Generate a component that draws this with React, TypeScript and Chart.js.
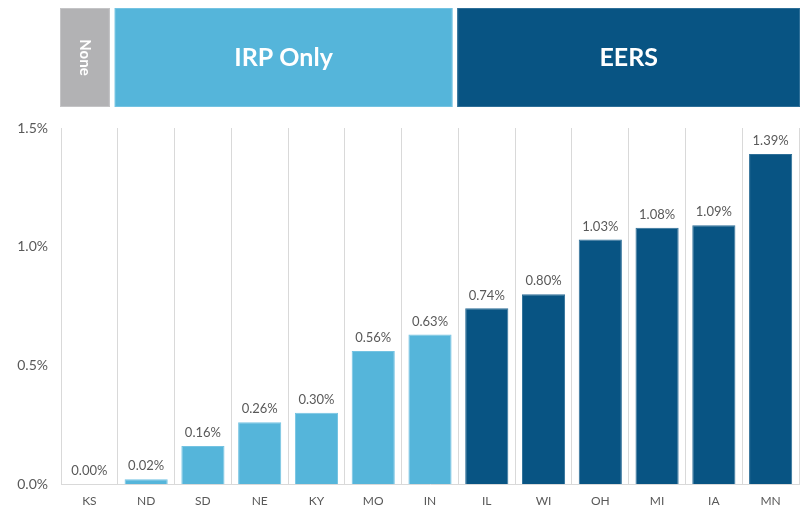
import React, { useEffect, useRef } from "react";
import { Chart, registerables } from "chart.js";

Chart.register(...registerables);

const categories = ["KS", "ND", "SD", "NE", "KY", "MO", "IN", "IL", "WI", "OH", "MI", "IA", "MN"];
const values = [0.0, 0.02, 0.16, 0.26, 0.3, 0.56, 0.63, 0.74, 0.8, 1.03, 1.08, 1.09, 1.39];
const groupOfCategory = [0, 1, 1, 1, 1, 1, 1, 2, 2, 2, 2, 2, 2];
const groupNames = ["None", "IRP Only", "EERS"];
const groupStart = [0, 1, 7];
const groupEnd = [1, 7, 13];
const groupColors = ["#B2B2B4", "#55B5DA", "#085483"];
const groupBorders = ["#C4C4C6", "#74C3E2", "#2E6F98"];
const yTicks = [0, 0.5, 1.0, 1.5];

const FONT = "Lato, 'DejaVu Sans', sans-serif";
const TEXT = "#595959";

const headerPlugin = {
  id: "groupHeaders",
  afterDraw(chart: any) {
    const ctx = chart.ctx;
    const xs = chart.scales.x;
    const n = categories.length;
    const w = (xs.right - xs.left) / n;
    const b = (i: number) => xs.left + i * w;
    const adj = [
      [-1, -8],
      [-3, -6],
      [-1, 1],
    ];
    const top = 8;
    const bottom = 107;
    ctx.save();
    for (let g = 0; g < groupNames.length; g++) {
      const x0 = b(groupStart[g]) + adj[g][0];
      const x1 = b(groupEnd[g]) + adj[g][1];
      ctx.fillStyle = groupColors[g];
      ctx.fillRect(x0, top, x1 - x0, bottom - top);
      ctx.strokeStyle = groupBorders[g];
      ctx.lineWidth = 1;
      ctx.strokeRect(x0 + 0.5, top + 0.5, x1 - x0 - 1, bottom - top - 1);
      ctx.fillStyle = "#FFFFFF";
      ctx.textAlign = "center";
      ctx.textBaseline = "middle";
      const cx = (x0 + x1) / 2;
      const cy = (top + bottom) / 2;
      if (g === 0) {
        ctx.save();
        ctx.translate(cx, cy);
        ctx.rotate(Math.PI / 2);
        ctx.font = `bold 15px ${FONT}`;
        ctx.fillText(groupNames[g], 0, 0);
        ctx.restore();
      } else {
        ctx.font = `bold 25px ${FONT}`;
        ctx.fillText(groupNames[g], cx, cy);
      }
    }
    ctx.restore();
  },
};

const labelPlugin = {
  id: "valueLabels",
  afterDatasetsDraw(chart: any) {
    const ctx = chart.ctx;
    const meta = chart.getDatasetMeta(0);
    ctx.save();
    ctx.font = `13px ${FONT}`;
    ctx.fillStyle = TEXT;
    ctx.textAlign = "center";
    ctx.textBaseline = "middle";
    meta.data.forEach((el: any, i: number) => {
      ctx.fillText(values[i].toFixed(2) + "%", el.x, el.y - 13);
    });
    ctx.restore();
  },
};

export default function App() {
  const ref = useRef<HTMLCanvasElement | null>(null);
  useEffect(() => {
    if (!ref.current) return;
    const chart = new Chart(ref.current, {
      type: "bar",
      data: {
        labels: categories,
        datasets: [
          {
            data: values,
            backgroundColor: groupOfCategory.map((g) => groupColors[g]),
            borderColor: groupOfCategory.map((g) => groupBorders[g]),
            borderWidth: 1,
            categoryPercentage: 1,
            barPercentage: 0.76,
          },
        ],
      },
      options: {
        responsive: false,
        animation: false,
        layout: { padding: { top: 128, right: 4, left: 0, bottom: 0 } },
        plugins: {
          legend: { display: false },
          tooltip: { enabled: false },
          title: { display: false },
        },
        scales: {
          x: {
            grid: { display: true, color: "#D9D9D9", lineWidth: 1, drawTicks: false, offset: true },
            border: { display: true, color: "#D9D9D9" },
            ticks: { color: TEXT, font: { family: FONT, size: 12 }, padding: 10 },
            afterFit: (s: any) => {
              s.height = 24;
            },
          },
          y: {
            min: 0,
            max: 1.5,
            afterBuildTicks: (s: any) => {
              s.ticks = yTicks.map((v) => ({ value: v }));
            },
            grid: { display: false, drawTicks: false },
            border: { display: false },
            ticks: {
              color: TEXT,
              font: { family: FONT, size: 14 },
              padding: 13,
              callback: (v: any) => Number(v).toFixed(1) + "%",
            },
            afterFit: (s: any) => {
              s.width = 61;
            },
          },
        },
      },
      plugins: [headerPlugin, labelPlugin],
    });
    return () => chart.destroy();
  }, []);
  return (
    <div style={{ position: "fixed", left: 0, top: 0, width: 803, height: 508, background: "#fff" }}>
      <canvas ref={ref} width={803} height={508} />
    </div>
  );
}
